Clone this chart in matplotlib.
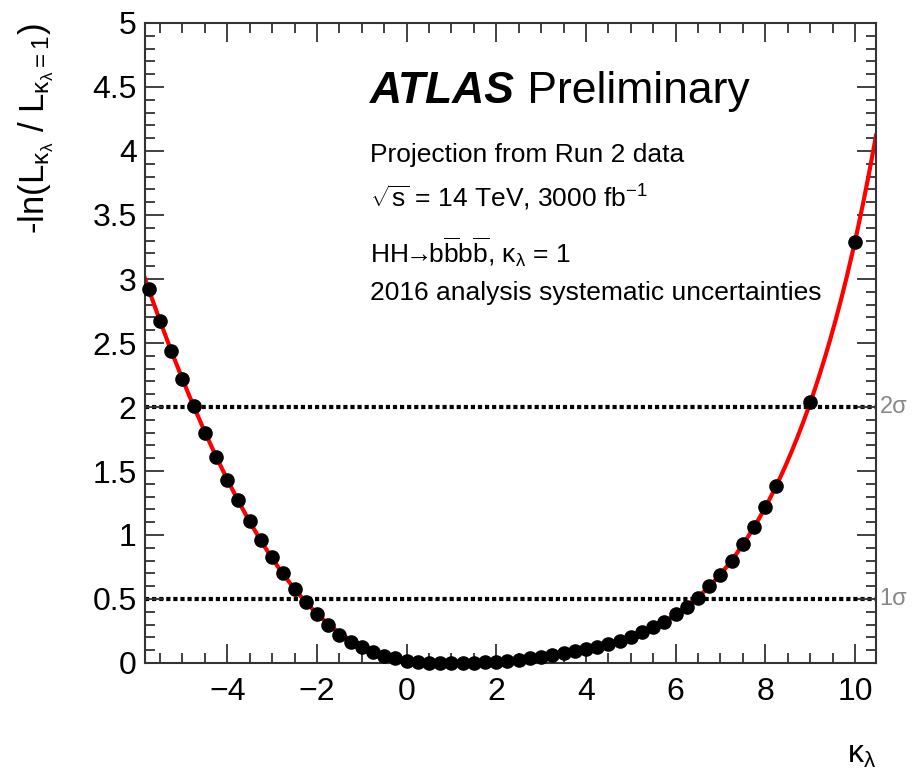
import numpy as np
import matplotlib
matplotlib.use('Agg')
import matplotlib.pyplot as plt
from matplotlib.ticker import MultipleLocator, FormatStrFormatter

# points du scan de vraisemblance (kappa_lambda, -ln L)
kl = [-5.75, -5.5, -5.25, -5.0, -4.75, -4.5, -4.25, -4.0, -3.75, -3.5,
      -3.25, -3.0, -2.75, -2.5, -2.25, -2.0, -1.75, -1.5, -1.25, -1.0,
      -0.75, -0.5, -0.25, 0.0, 0.25, 0.5, 0.75, 1.0, 1.25, 1.5,
      1.75, 2.0, 2.25, 2.5, 2.75, 3.0, 3.25, 3.5, 3.75, 4.0,
      4.25, 4.5, 4.75, 5.0, 5.25, 5.5, 5.75, 6.0, 6.25, 6.5,
      6.75, 7.0, 7.25, 7.5, 7.75, 8.0, 8.25, 9.0, 10.0]
nll = [2.92, 2.67, 2.44, 2.22, 2.005, 1.80, 1.61, 1.43, 1.27, 1.11,
       0.96, 0.83, 0.705, 0.58, 0.475, 0.38, 0.30, 0.22, 0.166, 0.127,
       0.088, 0.057, 0.037, 0.016, 0.005, 0.0, 0.0, 0.0, 0.0, 0.003,
       0.006, 0.009, 0.016, 0.025, 0.037, 0.05, 0.063, 0.077, 0.092, 0.108,
       0.127, 0.148, 0.174, 0.205, 0.242, 0.281, 0.322, 0.38, 0.44, 0.51,
       0.60, 0.69, 0.80, 0.93, 1.06, 1.215, 1.38, 2.04, 3.29]

# niveaux 1 et 2 sigma
sig_levels = [0.5, 2.0]
sig_labels = ['1σ', '2σ']

xmin, xmax = -5.835, 10.47

plt.rcParams['font.family'] = ['Liberation Sans', 'DejaVu Sans']
plt.rcParams['mathtext.fontset'] = 'custom'
plt.rcParams['mathtext.rm'] = 'Liberation Sans'
plt.rcParams['mathtext.it'] = 'Liberation Sans:italic'
plt.rcParams['mathtext.bf'] = 'Liberation Sans:bold'
plt.rcParams['mathtext.default'] = 'regular'

fig = plt.figure(figsize=(9.16, 7.71), dpi=100)
ax = fig.add_axes([145/916, 1-663/771, 731/916, 640/771])

# courbe lissee (ajustement polynomial des points)
fit = np.polynomial.Polynomial.fit(kl, nll, 8)
xs = np.linspace(xmin, xmax, 400)
ax.plot(xs, fit(xs), color='red', lw=3, zorder=2)
ax.plot(kl, nll, 'o', color='black', ms=9.5, zorder=3, clip_on=False)

for lev, lab in zip(sig_levels, sig_labels):
    ax.axhline(lev, color='black', lw=3, linestyle=(0, (1.0, 0.7)), zorder=1)
    ax.text(1.005, lev, lab, transform=ax.get_yaxis_transform(), color='#888888',
            fontsize=17, va='center', ha='left')

ax.set_xlim(xmin, xmax)
ax.set_ylim(0, 5)
ax.xaxis.set_major_locator(MultipleLocator(2))
ax.xaxis.set_minor_locator(MultipleLocator(0.5))
ax.yaxis.set_major_locator(MultipleLocator(0.5))
ax.yaxis.set_minor_locator(MultipleLocator(0.1))
ax.yaxis.set_major_formatter(FormatStrFormatter('%g'))
ax.tick_params(which='both', direction='in', top=True, right=True,
               labelsize=23, width=1.3, color='#333333')
ax.tick_params(which='major', length=14)
ax.tick_params(which='minor', length=7)
ax.tick_params(axis='x', pad=10)
ax.tick_params(axis='y', pad=6)
for s in ax.spines.values():
    s.set_linewidth(1.5)
    s.set_color('#333333')

ax.set_ylabel(r'-ln(L$_{\kappa_{\lambda}}$ / L$_{\kappa_{\lambda}=1}$)', fontsize=25, loc='top')
ax.yaxis.set_label_coords(-0.122, 1.0)
ax.set_xlabel(r'$\kappa_{\lambda}$', fontsize=23, loc='right')
ax.xaxis.set_label_coords(1.0, -0.12)

# textes ATLAS
t = ax.text(0.308, 0.875, 'ATLAS', transform=ax.transAxes, fontsize=32,
            fontweight='bold', style='italic', va='baseline')
ax.annotate(' Preliminary', xy=(1, 0), xycoords=t, fontsize=32, va='bottom', ha='left')
ax.text(0.308, 0.783, 'Projection from Run 2 data', transform=ax.transAxes,
        fontsize=19, va='baseline')
ax.text(0.308, 0.712, r'$\sqrt{s}$ = 14 TeV, 3000 fb$^{-1}$', transform=ax.transAxes,
        fontsize=19, va='baseline')
ax.text(0.308, 0.625, r'HH$\!\!\rightarrow\!\!$b$\overline{b}$b$\overline{b}$, $\kappa_{\lambda}$ = 1',
        transform=ax.transAxes, fontsize=19, va='baseline')
ax.text(0.308, 0.567, '2016 analysis systematic uncertainties', transform=ax.transAxes,
        fontsize=19, va='baseline')

fig.savefig('out.png', dpi=100)
